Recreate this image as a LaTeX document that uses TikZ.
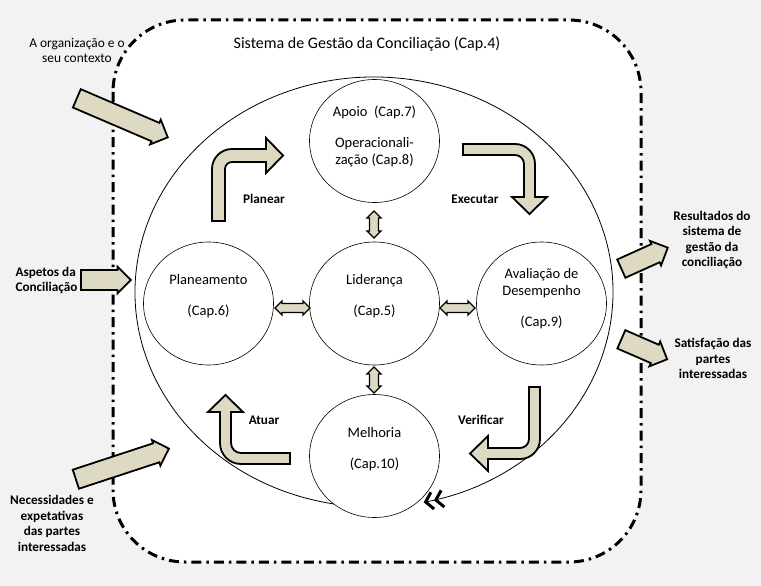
\documentclass[tikz,border=0pt]{standalone}
\usepackage{fontspec}
\setmainfont{Carlito}
\usepackage{tikz}
\usetikzlibrary{arrows.meta, shapes.geometric, shapes.arrows}
\definecolor{bggray}{HTML}{F2F2F2}
\definecolor{khaki}{HTML}{DDD9C3}

\begin{document}
\begin{tikzpicture}[x=1pt, y=-1pt,
  phase/.style={ellipse, draw, fill=white, line width=0.6pt, minimum width=130pt, minimum height=123pt},
  phasetxt/.style={align=center, font=\fontsize{14.5}{17}\selectfont},
  lbl/.style={align=center, font=\bfseries\fontsize{13.2}{15.6}\selectfont},
  outlbl/.style={align=center, font=\fontsize{13.4}{15}\selectfont},
  frame/.style={line width=3pt, dash pattern=on 10pt off 5pt on 2.5pt off 5pt, rounded corners=72pt},
  bent/.style={draw, line width=1.8pt, fill=khaki, line join=miter},
  inarrow/.style={single arrow, draw, line width=1.8pt, fill=khaki, inner sep=4.8pt, minimum width=27pt, single arrow head extend=2pt, anchor=tail},
  dblarrow/.style={double arrow, draw, line width=1.4pt, fill=khaki, inner sep=2.8pt, minimum width=14pt, double arrow head extend=2pt}]
\fill[bggray] (0,0) rectangle (761,586);
\useasboundingbox (0,0) rectangle (761,586);

% system frame
\draw[frame, fill=white] (113,20) rectangle (641,562);
\node[font=\fontsize{16}{19}\selectfont] (title) at (367,44) {Sistema de Gestão da Conciliação (Cap.4)};

% cycle loop
\draw[line width=0.8pt, -{Straight Barb[length=7pt,width=17pt,line width=3pt] Straight Barb[length=7pt,width=17pt,line width=3pt]}]
  (374,292) ++(261:239pt and 215pt) arc[start angle=261, end angle=-78, x radius=239pt, y radius=215pt];

% phases
\node[phase] (apoio) at (374.5,141) {};
\node[phase] (plan) at (208.5,303.5) {};
\node[phase] (lid) at (374.5,303.5) {};
\node[phase] (aval) at (541.5,303.5) {};
\node[phase] (melh) at (374.5,456) {};

\node[phasetxt] (apoio-t) at (374.5,136) {Apoio~~(Cap.7)\\[14pt]Operacionali-\\zação (Cap.8)};
\node[phasetxt] (plan-t) at (208.5,296) {Planeamento\\[14pt](Cap.6)};
\node[phasetxt] (lid-t) at (374.5,296) {Liderança\\[14pt](Cap.5)};
\node[phasetxt] (aval-t) at (541.5,299) {Avaliação de\\Desempenho\\[14pt](Cap.9)};
\node[phasetxt] (melh-t) at (374.5,449.5) {Melhoria\\[14pt](Cap.10)};

% links to leadership
\node[dblarrow, minimum height=27pt, rotate=90] (ap-li) at (374,224.5) {};
\node[dblarrow, minimum height=26pt, rotate=90] (li-me) at (374,380) {};
\node[dblarrow, minimum height=35pt] (pl-li) at (292.5,308) {};
\node[dblarrow, minimum height=35pt] (li-av) at (457.5,308) {};

% PDCA arrows
\draw[bent] (212,221) -- (212,169) arc[start angle=180, end angle=90, radius=20pt] -- (266,149) -- (266,138)
  -- (283,155.5) -- (266,173) -- (266,162) -- (232,162) arc[start angle=90, end angle=180, radius=7pt] -- (225,221) -- cycle;
\draw[bent] (463,144) -- (515,144) arc[start angle=90, end angle=0, radius=20pt] -- (535,197) -- (547,197)
  -- (529.5,214) -- (512,197) -- (524,197) -- (524,164) arc[start angle=0, end angle=90, radius=9pt] -- (463,155) -- cycle;
\draw[bent] (529,387) -- (540,387) -- (540,439) arc[start angle=0, end angle=-90, radius=20pt] -- (488,459) -- (488,471)
  -- (470,453.5) -- (488,436) -- (488,448) -- (520,448) arc[start angle=-90, end angle=0, radius=9pt] -- cycle;
\draw[bent] (290,453) -- (290,464) -- (241,464) arc[start angle=-90, end angle=-180, radius=21pt] -- (220,412) -- (208,412)
  -- (225.5,395) -- (243,412) -- (231,412) -- (231,443) arc[start angle=180, end angle=270, radius=10pt] -- cycle;

\node[lbl] (planear) at (264,199) {Planear};
\node[lbl] (executar) at (475,199) {Executar};
\node[lbl] (atuar) at (264,420) {Atuar};
\node[lbl] (verificar) at (481,420) {Verificar};

% inputs and outputs
\node[inarrow, minimum height=99pt, rotate=-23.2] (in-org) at (76,98) {};
\node[inarrow, minimum height=50pt] (in-asp) at (80,280) {};
\node[inarrow, minimum height=98pt, rotate=18.2] (in-nec) at (75,479.5) {};
\node[inarrow, minimum height=51pt, rotate=24.3] (out-res) at (620.5,269) {};
\node[inarrow, minimum height=50pt, rotate=-23.5] (out-sat) at (620.5,339) {};

\node[outlbl] (org) at (77,50.5) {A organização e o\\seu contexto};
\node[lbl, align=left, anchor=west] (asp) at (12,280.5) {Aspetos da\\Conciliação};
\node[lbl] (nec) at (52,523.5) {Necessidades e\\expetativas\\das partes\\interessadas};
\node[lbl] (res) at (712,240) {Resultados do\\sistema de\\gestão da\\conciliação};
\node[lbl] (sat) at (713,358.5) {Satisfação das\\partes\\interessadas};
\end{tikzpicture}
\end{document}
